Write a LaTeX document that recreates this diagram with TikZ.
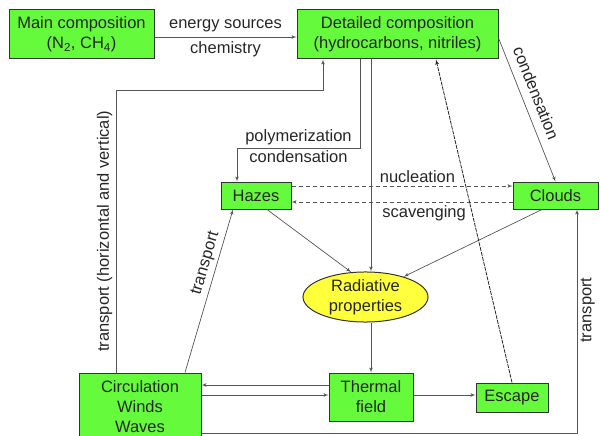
\documentclass[tikz,border=0pt]{standalone}
\usepackage{fontspec}
\setmainfont{Liberation Sans}
\usetikzlibrary{arrows, calc, shapes.geometric}

\definecolor{boxgreen}{RGB}{102,250,60}
\definecolor{propyellow}{RGB}{255,255,60}
\definecolor{linegray}{RGB}{85,85,85}

\begin{document}
\begin{tikzpicture}
          [
            x=1pt, y=-1pt,
            font=\fontsize{16.5}{20}\selectfont,
            box/.style={draw=black!80,line width=1pt,fill=boxgreen,text=black!85,align=center,inner sep=0pt},
            prop/.style={ellipse,draw=black!80,line width=1pt,fill=propyellow,text=black!85,align=center,inner sep=0pt},
            link/.style={draw=linegray,line width=0.7pt,->,>=latex'},
            lbl/.style={text=black!85}
          ]
          \useasboundingbox (0,0) rectangle (600,436);
          % composition
          \node[box,minimum width=145,minimum height=49] (main) at (81.5,34.5) {Main composition\\(N\textsubscript{2}, CH\textsubscript{4})};
          \node[box,minimum width=201,minimum height=49] (detailed) at (397.5,34.5) {Detailed composition\\(hydrocarbons, nitriles)};
          % hazes and clouds
          \node[box,minimum width=70,minimum height=27] (hazes) at (256,195.5) {Hazes};
          \node[box,minimum width=85,minimum height=27] (clouds) at (555.5,195.5) {Clouds};
          \node[prop,minimum width=125,minimum height=50] (radiative) at (365.5,297) {Radiative\\properties};
          % bottom row
          \node[box,minimum width=122,minimum height=68] (circ) at (140,407) {Circulation\\Winds\\Waves};
          \node[box,minimum width=84,minimum height=48] (thermal) at (371,397) {Thermal\\field};
          \node[box,minimum width=72,minimum height=29] (escape) at (512,397.5) {Escape};
          \coordinate (poly) at (237,148);
          \coordinate (tup) at (323,90);
          \coordinate (tright) at (577,433);
          % main - detailed
          \draw [link] ([yshift=-2.5]main.east) -- ([yshift=-2.5]main.east -| detailed.west)
            node[lbl,midway,above=1pt] {energy sources}
            node[lbl,midway,below=1pt] {chemistry};
          % detailed - hazes, radiative, clouds
          \draw [link] ([xshift=-37.5]detailed.south) |- (poly)
            node[lbl,pos=0.75,above=-1pt] {polymerization}
            node[lbl,pos=0.75,below=-1pt] {condensation}
            -- (poly |- hazes.north);
          \draw [link] (detailed.south -| thermal.north) -- (radiative.north -| thermal.north);
          \draw [link] ([yshift=-3.5]detailed.east) -- (clouds.north)
            node[lbl,pos=0.42,sloped,above=5pt] {condensation};
          % hazes - clouds
          \draw [link,dash pattern=on 4pt off 3pt] ([yshift=9.5]hazes.east) -- ([yshift=9.5]clouds.west)
            node[lbl,pos=0.57,above] {nucleation};
          \draw [link,dash pattern=on 4pt off 3pt] ([yshift=-6.5]clouds.west) -- ([yshift=-6.5]hazes.east)
            node[lbl,pos=0.4,below] {scavenging};
          % radiative properties
          \draw [link] ([xshift=11]hazes.south) -- (radiative.120);
          \draw [link] ([xshift=-13.5]clouds.south) -- (radiative.28);
          \draw [link] (radiative.south -| thermal.north) -- (thermal.north);
          % transport
          \draw [link] ([xshift=-24]circ.north) |- (tup)
            node[lbl,pos=0.25,sloped,above] {transport (horizontal and vertical)}
            -- (tup |- detailed.south);
          \draw [link] ([xshift=45]circ.north) -- ([xshift=-23]hazes.south)
            node[lbl,pos=0.65,sloped,above] {transport};
          \draw [link] (circ.east |- tright) -- (tright) -- (tright |- clouds.south)
            node[lbl,pos=0.55,sloped,below] {transport};
          % thermal field
          \draw [link] ([yshift=12]thermal.west) -- ([yshift=12]thermal.west -| circ.east);
          \draw [link] ([yshift=2]thermal.west -| circ.east) -- ([yshift=2]thermal.west);
          \draw [link] ([yshift=2]thermal.east) -- ([yshift=2]thermal.east -| escape.west);
          \draw [link,draw=black!85,line width=0.8pt,dash pattern=on 4pt off 1pt] (escape.north) -- ([xshift=38.5]detailed.south);
\end{tikzpicture}
\end{document}
